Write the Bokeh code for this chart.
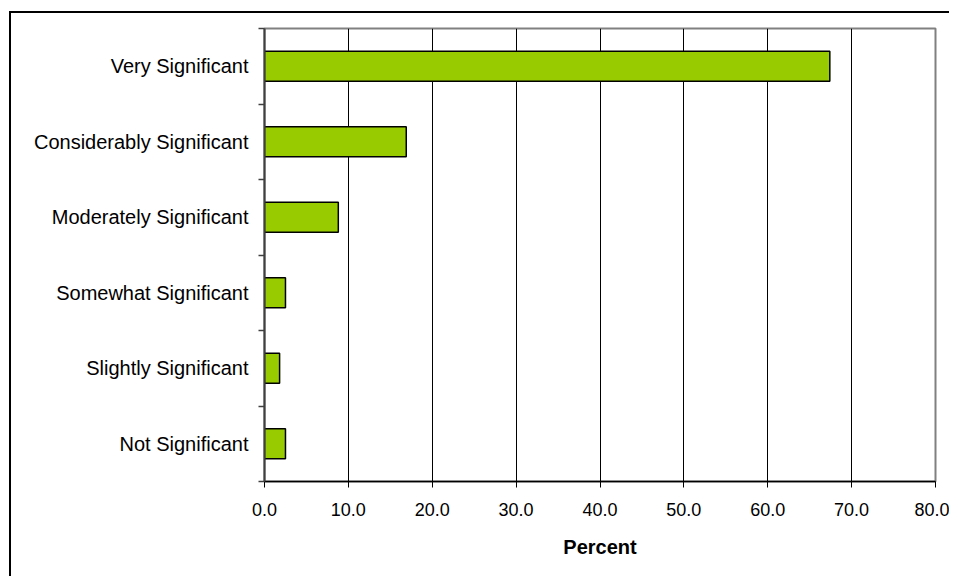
import numpy as np
from bokeh.plotting import figure
from bokeh.models import FixedTicker, NumeralTickFormatter, Range1d, ColumnDataSource
from bokeh.embed import file_html
from bokeh.resources import INLINE

categories = ["Not Significant", "Slightly Significant", "Somewhat Significant",
              "Moderately Significant", "Considerably Significant", "Very Significant"]
percent = [2.5, 1.8, 2.5, 8.8, 16.9, 67.4]
x_ticks = [0, 10, 20, 30, 40, 50, 60, 70, 80]

pos = np.arange(len(categories)) + 0.5
src = ColumnDataSource(dict(y=pos, right=percent, cat=categories))

OX, OY, BW = 9, 11, 2
W = 940
p = figure(width=W, height=578 - OY - BW, output_backend="svg", toolbar_location=None,
           x_range=Range1d(0, 80), y_range=Range1d(0, len(categories)),
           min_border_left=264 - OX - BW, min_border_right=W + OX + BW - 935,
           min_border_top=28 - OY - BW, min_border_bottom=97,
           margin=(OY, 0, 0, OX),
           styles={"border-left": "2px solid #000000", "border-top": "2px solid #000000",
                   "border-right": "none", "border-bottom": "none"})
p.hbar(y="y", left=0, right="right", height=0.4, source=src,
       fill_color="#99CC00", line_color="#000000", line_width=1.5)

p.background_fill_color = "white"
p.border_fill_color = "white"
p.outline_line_color = "#808080"
p.outline_line_width = 2

p.ygrid.grid_line_color = None
p.xgrid.ticker = FixedTicker(ticks=x_ticks)
p.xgrid.grid_line_color = "#000000"
p.xgrid.grid_line_width = 1

xa = p.xaxis[0]
xa.ticker = FixedTicker(ticks=x_ticks)
xa.formatter = NumeralTickFormatter(format="0.0")
xa.axis_label = "Percent"
xa.axis_label_text_font = "Liberation Sans"
xa.axis_label_text_font_style = "bold"
xa.axis_label_text_font_size = "20px"
xa.axis_label_text_color = "#000000"
xa.axis_label_standoff = 17
xa.major_label_text_font = "Liberation Sans"
xa.major_label_text_font_size = "18px"
xa.major_label_text_color = "#000000"
xa.major_label_standoff = 15
xa.major_tick_in = 0
xa.major_tick_out = 6
xa.minor_tick_out = 0
xa.minor_tick_in = 0
xa.axis_line_color = "#000000"
xa.axis_line_width = 1.5
xa.major_tick_line_color = "#000000"

ya = p.yaxis[0]
ya.ticker = FixedTicker(ticks=list(pos), minor_ticks=list(range(len(categories) + 1)))
ya.major_label_overrides = {float(v): c for v, c in zip(pos, categories)}
ya.major_label_text_font = "Liberation Sans"
ya.major_label_text_font_size = "20px"
ya.major_label_text_color = "#000000"
ya.major_label_standoff = 10
ya.major_tick_in = 0
ya.major_tick_out = 0
ya.minor_tick_in = 0
ya.minor_tick_out = 6
ya.minor_tick_line_color = "#404040"
ya.minor_tick_line_width = 1.5
ya.axis_line_color = "#404040"
ya.axis_line_width = 2

open("out.html", "w").write(file_html(p, INLINE))
